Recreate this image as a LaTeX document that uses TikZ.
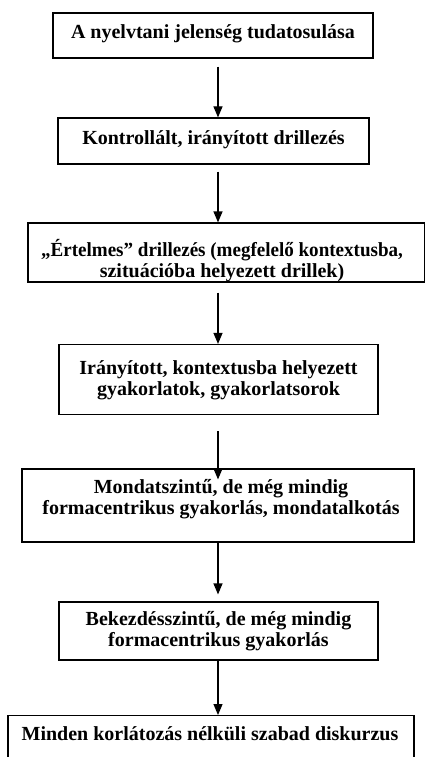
\documentclass[tikz,border=0pt]{standalone}
\usepackage{fontspec}
\setmainfont{Liberation Serif}
\usetikzlibrary{arrows.meta}
\begin{document}
\begin{tikzpicture}[x=1pt,y=1pt,
  stage/.style={draw=black, line width=1.2pt, fill=white, inner sep=0pt},
  caption/.style={align=center, inner sep=0pt,
    font=\bfseries\fontsize{20}{21}\selectfont},
  arr/.style={line width=1.2pt, -{Triangle[length=11pt,width=9pt]}}]
\useasboundingbox (0,0) rectangle (425,-757);
\clip (0,0) rectangle (425,-757);
% frames of the stages, top to bottom
\node[stage, minimum width=320pt, minimum height=45pt] (b1) at (213,-35.5) {};
\node[stage, minimum width=311pt, minimum height=46pt] (b2) at (213.5,-141) {};
\node[stage, minimum width=397pt, minimum height=59pt] (b3) at (226.5,-252.5) {};
\node[stage, minimum width=319pt, minimum height=70pt] (b4) at (218.5,-379.5) {};
\node[stage, minimum width=392pt, minimum height=73pt] (b5) at (218,-505.5) {};
\node[stage, minimum width=319pt, minimum height=58pt] (b6) at (218.5,-631) {};
\node[stage, minimum width=406pt, minimum height=60pt, anchor=north] (b7) at (211,-715) {};
% texts of the stages
\node[caption, anchor=base] (t1) at (213,-39) {A nyelvtani jelenség tudatosulása};
\node[caption, anchor=base] (t2) at (213.5,-144) {Kontrollált, irányított drillezés};
\node[caption] (t3) at (222,-261)
  {\scalebox{0.952}[1]{„Értelmes” drillezés (megfelelő kontextusba,}\\szituációba helyezett drillek)};
\node[caption] (t4) at (218.5,-380.5)
  {Irányított, kontextusba helyezett\\gyakorlatok, gyakorlatsorok};
\node[caption] (t5) at (221,-499.5)
  {Mondatszintű, de még mindig\\formacentrikus gyakorlás, mondatalkotás};
\node[caption] (t6) at (218.5,-631.5)
  {Bekezdésszintű, de még mindig\\formacentrikus gyakorlás};
\node[caption, anchor=base] (t7) at (210,-740) {Minden korlátozás nélküli szabad diskurzus};
% common axis of the arrows
\coordinate (ax) at (218,0);
\draw[arr] ([yshift=-8pt]b1.south -| ax) -- (b2.north -| ax);
\draw[arr] ([yshift=-7pt]b2.south -| ax) -- (b3.north -| ax);
\draw[arr] ([yshift=-10pt]b3.south -| ax) -- (b4.north -| ax);
\draw[arr] ([yshift=-16pt]b4.south -| ax) -- ([yshift=-11pt]b5.north -| ax);
\draw[arr] (b5.south -| ax) -- ([yshift=7pt]b6.north -| ax);
\draw[arr] (b6.south -| ax) -- (b7.north -| ax);
\end{tikzpicture}
\end{document}
